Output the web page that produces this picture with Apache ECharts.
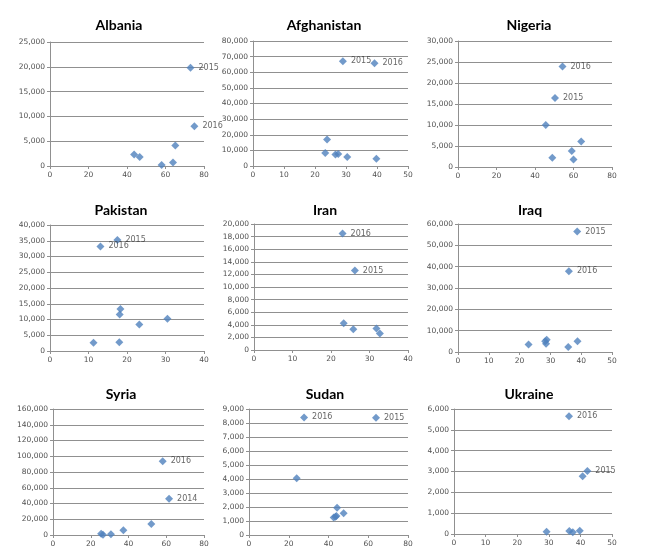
<!DOCTYPE html>
<html>
<head>
<meta charset="utf-8">
<script src="https://cdn.jsdelivr.net/npm/echarts@6/dist/echarts.min.js"></script>
<style>
html,body{margin:0;padding:0;background:#fff;}
#chart{width:648px;height:551px;}
</style>
</head>
<body>
<div id="chart"></div>
<script>
// ---- data (x = recognition rate %, y = applications) ----
const countries = ['Albania','Afghanistan','Nigeria','Pakistan','Iran','Iraq','Syria','Sudan','Ukraine'];

const albaniaX = [73, 75, 43.7, 46.6, 65.1, 58, 63.9];
const albaniaY = [19800, 8000, 2300, 1800, 4150, 200, 700];
const albaniaL = ['2015','2016','','','','',''];

const afghanistanX = [29, 39.2, 23.9, 23.3, 26.6, 27.5, 30.4, 39.8];
const afghanistanY = [67000, 65700, 16900, 8300, 7300, 7700, 5800, 4700];
const afghanistanL = ['2015','2016','','','','','',''];

const nigeriaX = [54.3, 50.4, 45.6, 49, 59.1, 60, 64];
const nigeriaY = [23900, 16400, 10000, 2200, 3800, 1800, 6100];
const nigeriaL = ['2016','2015','','','','',''];

const pakistanX = [17.5, 13.1, 18.3, 18.1, 23.2, 30.5, 11.3, 18];
const pakistanY = [35200, 33200, 13300, 11600, 8400, 10200, 2600, 2800];
const pakistanL = ['2015','2016','','','','','',''];

const iranX = [23, 26.2, 23.3, 25.8, 31.8, 32.7];
const iranY = [18500, 12600, 4250, 3300, 3400, 2600];
const iranL = ['2016','2015','','','',''];

const iraqX = [38.7, 36, 22.9, 28.8, 28.3, 28.6, 35.8, 38.8];
const iraqY = [56500, 37900, 3500, 5800, 5000, 3900, 2400, 5000];
const iraqL = ['2015','2016','','','','','',''];

const syriaX = [58.1, 61.5, 52.1, 37.3, 30.7, 25.5, 26.5];
const syriaY = [93500, 45900, 13900, 5900, 800, 1600, 200];
const syriaL = ['2016','2014','','','','',''];

const sudanX = [27.7, 63.9, 24, 44.3, 47.6, 42.6, 43.5, 44];
const sudanY = [8400, 8380, 4050, 1950, 1550, 1250, 1300, 1350];
const sudanL = ['2016','2015','','','','','',''];

const ukraineX = [36.4, 42.2, 40.7, 29.3, 36.5, 37.6, 39.8];
const ukraineY = [5650, 3020, 2770, 110, 150, 80, 160];
const ukraineL = ['2016','2015','','','','',''];

const xMax = [80, 50, 80, 40, 40, 50, 80, 80, 50];
const xStep = [20, 10, 20, 10, 10, 10, 20, 20, 10];
const yMax = [25000, 80000, 30000, 40000, 20000, 60000, 160000, 9000, 6000];
const yStep = [5000, 10000, 5000, 5000, 2000, 10000, 20000, 1000, 1000];

const allX = [albaniaX, afghanistanX, nigeriaX, pakistanX, iranX, iraqX, syriaX, sudanX, ukraineX];
const allY = [albaniaY, afghanistanY, nigeriaY, pakistanY, iranY, iraqY, syriaY, sudanY, ukraineY];
const allL = [albaniaL, afghanistanL, nigeriaL, pakistanL, iranL, iraqL, syriaL, sudanL, ukraineL];

// ---- layout ----
const grids = [
  {left:50, top:42, width:154, height:124},
  {left:253, top:41, width:155, height:125},
  {left:458, top:41, width:154, height:126},
  {left:50, top:225, width:154, height:126},
  {left:254, top:224, width:154, height:126},
  {left:458, top:224, width:154, height:128},
  {left:53, top:409, width:151, height:126},
  {left:249, top:409, width:159, height:126},
  {left:454, top:409, width:158, height:125}
];
const titleX = [114, 319, 524, 116, 320, 525, 116, 320, 524];
const titleY = [13, 198, 382];

const axisColor = '#909090';
const labelColor = '#505050';
const fontFam = 'DejaVu Sans, Liberation Sans, sans-serif';

const option = {
  animation: false,
  backgroundColor: '#ffffff',
  title: countries.map((c, i) => ({
    text: c,
    left: titleX[i],
    top: titleY[Math.floor(i / 3)],
    textAlign: 'center',
    textStyle: {fontFamily: 'Lato, Open Sans, sans-serif', fontWeight: 'bold', fontSize: 14, color: '#000'}
  })),
  grid: grids,
  xAxis: countries.map((c, i) => ({
    type: 'value', gridIndex: i, min: 0, max: xMax[i], interval: xStep[i],
    axisLine: {show: true, lineStyle: {color: axisColor}},
    axisTick: {show: true, length: 3, lineStyle: {color: axisColor}},
    splitLine: {show: false},
    axisLabel: {fontSize: 7.5, color: labelColor, fontFamily: fontFam, margin: 5}
  })),
  yAxis: countries.map((c, i) => ({
    type: 'value', gridIndex: i, min: 0, max: yMax[i], interval: yStep[i],
    axisLine: {show: true, lineStyle: {color: axisColor}},
    axisTick: {show: true, length: 3, lineStyle: {color: axisColor}},
    splitLine: {show: true, lineStyle: {color: axisColor, width: 1}},
    axisLabel: {fontSize: 7.5, color: labelColor, fontFamily: fontFam, margin: 5,
      formatter: v => v.toLocaleString('en-US')}
  })),
  series: countries.map((c, i) => ({
    type: 'scatter', xAxisIndex: i, yAxisIndex: i,
    symbol: 'diamond', symbolSize: 8,
    itemStyle: {color: '#4f81bd'},
    data: allX[i].map((x, j) => ({
      value: [x, allY[i][j]],
      label: {show: allL[i][j] !== '', formatter: allL[i][j], position: 'right', distance: 4,
        fontSize: 8, color: '#404040', fontFamily: fontFam}
    }))
  }))
};

const chart = echarts.init(document.getElementById('chart'), null, {renderer: 'canvas'});
chart.setOption(option);
</script>
</body>
</html>
